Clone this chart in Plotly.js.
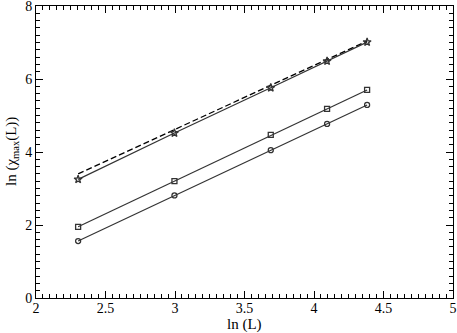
<!DOCTYPE html>
<html>
<head>
<meta charset="utf-8">
<script src="https://cdn.plot.ly/plotly-3.0.1.min.js"></script>
<style>
  html, body { margin: 0; padding: 0; background: #fff; }
  #chart { width: 457px; height: 333px; }
</style>
</head>
<body>
<div id="chart"></div>
<script>
// ln(L) for L = 10, 20, 40, 60, 80
const lnL = [2.303, 2.996, 3.689, 4.094, 4.382];

// ln(chi_max(L)) for the three data sets
const chiTop = [3.25, 4.52, 5.76, 6.49, 7.01];
const chiMid = [1.95, 3.20, 4.47, 5.18, 5.70];
const chiLow = [1.56, 2.81, 4.05, 4.77, 5.29];

// dashed reference line (end points)
const dashX = [2.303, 4.382];
const dashY = [3.40, 7.04];

// tick labels
const xTicks = [2, 2.5, 3, 3.5, 4, 4.5, 5];
const xTickText = ['2', '2.5', '3', '3.5', '4', '4.5', '5'];
const yTicks = [0, 2, 4, 6, 8];
const yTickText = ['0', '2', '4', '6', '8'];

const ink = '#333333';

function series(y, symbol, size) {
  return {
    x: lnL,
    y: y,
    type: 'scatter',
    mode: 'lines+markers',
    line: { color: ink, width: 1.2 },
    marker: { symbol: symbol, size: size, color: ink, line: { color: ink, width: 1.3 } },
    showlegend: false,
    cliponaxis: false,
  };
}

const minorX = { tickmode: 'linear', tick0: 2, dtick: 0.05, ticklen: 4, tickcolor: '#000', ticks: 'inside' };
const minorY = { tickmode: 'linear', tick0: 0, dtick: 0.2, ticklen: 4, tickcolor: '#000', ticks: 'inside' };

Plotly.newPlot('chart', [
  {
    x: dashX,
    y: dashY,
    type: 'scatter',
    mode: 'lines',
    line: { color: '#000', width: 1.3, dash: '6px,3px' },
    showlegend: false,
  },
  series(chiTop, 'star-open', 6),
  series(chiMid, 'square-open', 5),
  series(chiLow, 'circle-open', 5),
], {
  width: 457,
  height: 333,
  margin: { l: 36, r: 4, t: 6, b: 35 },
  paper_bgcolor: '#ffffff',
  plot_bgcolor: '#ffffff',
  font: { family: 'Liberation Serif, Times New Roman, serif', size: 14, color: '#000' },
  xaxis: {
    range: [2, 5],
    tickmode: 'array',
    tickvals: xTicks,
    ticktext: xTickText,
    ticks: 'inside',
    ticklen: 7,
    tickcolor: '#000',
    tickfont: { size: 14 },
    ticklabeloverflow: 'allow',
    ticklabelstandoff: -3,
    minor: minorX,
    showline: true,
    linecolor: '#000',
    linewidth: 1,
    mirror: 'allticks',
    showgrid: false,
    zeroline: false,
    automargin: false,
  },
  yaxis: {
    range: [0, 8],
    tickmode: 'array',
    tickvals: yTicks,
    ticktext: yTickText,
    ticks: 'inside',
    ticklen: 7,
    tickcolor: '#000',
    tickfont: { size: 14 },
    ticklabeloverflow: 'allow',
    minor: minorY,
    showline: true,
    linecolor: '#000',
    linewidth: 1,
    mirror: 'allticks',
    showgrid: false,
    zeroline: false,
    automargin: false,
  },
  annotations: [
    {
      text: 'ln (L)', xref: 'paper', yref: 'paper', x: 0.5, y: 0,
      xanchor: 'center', yanchor: 'top', yshift: -16, showarrow: false,
      font: { size: 15 },
    },
    {
      text: 'ln (χ<sub>max</sub>(L))', xref: 'paper', yref: 'paper', x: 0, y: 0.5,
      xanchor: 'center', yanchor: 'middle', xshift: -24, textangle: -90, showarrow: false,
      font: { size: 15 },
    },
  ],
}, { displayModeBar: false });
</script>
</body>
</html>
